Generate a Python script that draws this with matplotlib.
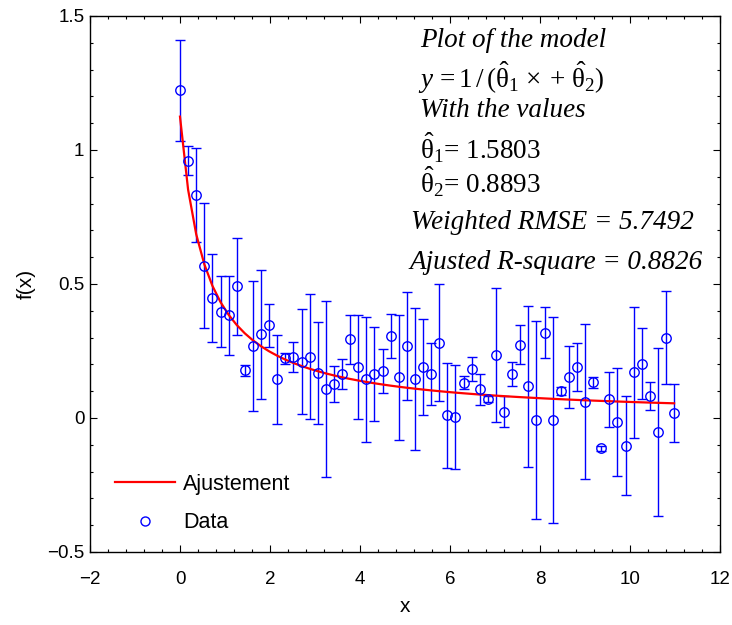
import numpy as np
import matplotlib
matplotlib.use("Agg")
import matplotlib.pyplot as plt
from matplotlib.ticker import MultipleLocator, FuncFormatter
from matplotlib.lines import Line2D

# data (x = 0:0.18:11)
x = np.arange(62) * 0.18
y = [1.223, 0.960, 0.832, 0.568, 0.448, 0.396, 0.383, 0.491, 0.178, 0.269,
     0.312, 0.346, 0.144, 0.223, 0.229, 0.210, 0.229, 0.169, 0.107, 0.128,
     0.165, 0.294, 0.191, 0.144, 0.164, 0.176, 0.306, 0.152, 0.269, 0.146,
     0.190, 0.165, 0.281, 0.010, 0.004, 0.132, 0.184, 0.107, 0.070, 0.235,
     0.024, 0.164, 0.274, 0.119, -0.008, 0.318, -0.008, 0.100, 0.152, 0.191,
     0.061, 0.133, -0.113, 0.070, -0.015, -0.104, 0.170, 0.203, 0.082, -0.053,
     0.300, 0.018]
err = [0.189, 0.054, 0.177, 0.233, 0.163, 0.132, 0.147, 0.182, 0.020, 0.244,
       0.242, 0.080, 0.167, 0.020, 0.056, 0.195, 0.233, 0.190, 0.328, 0.067,
       0.057, 0.092, 0.193, 0.234, 0.177, 0.083, 0.083, 0.234, 0.200, 0.264,
       0.180, 0.115, 0.219, 0.195, 0.195, 0.024, 0.045, 0.058, 0.012, 0.250,
       0.057, 0.045, 0.073, 0.300, 0.370, 0.095, 0.385, 0.015, 0.116, 0.089,
       0.290, 0.020, 0.010, 0.103, 0.203, 0.185, 0.244, 0.131, 0.051, 0.314,
       0.174, 0.109]

theta1 = 1.5803
theta2 = 0.8893
rmse = 5.7492
r2 = 0.8826

fit = 1.0 / (theta1 * x + theta2)

plt.rcParams["font.family"] = ["Liberation Sans", "DejaVu Sans"]
plt.rcParams["axes.unicode_minus"] = True
plt.rcParams["mathtext.fontset"] = "custom"
plt.rcParams["mathtext.rm"] = "Liberation Serif"
plt.rcParams["mathtext.it"] = "Liberation Serif:italic"

fig = plt.figure(figsize=(7.32, 6.25), dpi=100)
ax = fig.add_axes([90 / 732, 1 - 552 / 625, 630 / 732, 536 / 625])

ax.errorbar(x, y, yerr=err, fmt="none", ecolor="#0000ff", elinewidth=1.0,
            capsize=3.4, capthick=1.0, zorder=2)
ax.plot(x, fit, color="#ff0000", lw=1.6, zorder=3)
ax.plot(x, y, "o", ms=6.8, mfc="none", mec="#0000ff", mew=1.0, zorder=4)

ax.set_xlim(-2, 12)
ax.set_ylim(-0.5, 1.5)
ax.xaxis.set_major_locator(MultipleLocator(2))
ax.xaxis.set_minor_locator(MultipleLocator(0.4))
ax.yaxis.set_major_locator(MultipleLocator(0.5))
ax.yaxis.set_minor_locator(MultipleLocator(0.1))
fmt = FuncFormatter(lambda v, p: ("%g" % v).replace("-", "\u2212"))
ax.xaxis.set_major_formatter(fmt)
ax.yaxis.set_major_formatter(fmt)
ax.tick_params(which="both", direction="in", top=True, right=True, width=0.8)
ax.tick_params(which="major", length=5, labelsize=13.5)
ax.tick_params(which="minor", length=2.5)
ax.tick_params(axis="x", which="major", pad=14)
ax.tick_params(axis="y", which="major", pad=4)
for s in ax.spines.values():
    s.set_linewidth(1.0)

ax.set_xlabel("x", fontsize=15, labelpad=6)
ax.set_ylabel("f(x)", fontsize=15, labelpad=8)

handles = [Line2D([], [], color="#ff0000", lw=1.6),
           Line2D([], [], ls="none", marker="o", ms=6.5, mfc="none", mec="#0000ff", mew=1.0)]
ax.legend(handles, ["Ajustement", "Data"], loc="lower left",
          bbox_to_anchor=(0.04, 0.035), frameon=False, fontsize=15.5,
          borderpad=0, borderaxespad=0, handlelength=2.8,
          handletextpad=0.35, labelspacing=0.8)

serif = "Liberation Serif"
fs = 19.5
lines = [
    (5.33, 1.410, "Plot of the model", "italic"),
    (5.29, 1.269, r"$y\,=1\,/\,(\hat{\mathrm{\theta}}_1\,\times+\,\hat{\mathrm{\theta}}_2)$", "normal"),
    (5.33, 1.149, "With the values", "italic"),
    (5.33, 1.007, r"$\hat{\mathrm{\theta}}_1$= %.4f" % theta1, "normal"),
    (5.33, 0.881, r"$\hat{\mathrm{\theta}}_2$= %.4f" % theta2, "normal"),
    (5.14, 0.731, "Weighted RMSE = %.4f" % rmse, "italic"),
    (5.11, 0.582, "Ajusted R-square = %.4f" % r2, "italic"),
]
for tx, ty, s, st in lines:
    ax.text(tx, ty, s, family=serif, style=st, fontsize=fs, ha="left", va="center")

fig.savefig("out.png", dpi=100)
